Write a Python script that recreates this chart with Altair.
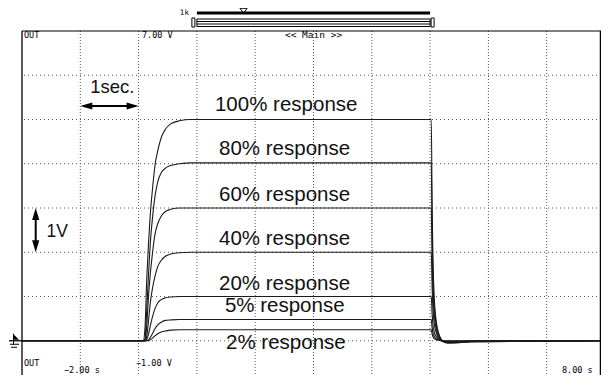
import altair as alt
import pandas as pd

# ---------------- data ----------------
# time (s) samples for the rising edge and for the falling edge
t_rise = [-2.0, 0.08, 0.11, 0.14, 0.17, 0.20, 0.24, 0.28, 0.33, 0.39, 0.46, 0.55, 0.70, 0.90]
t_fall = [5.02, 5.035, 5.05, 5.07, 5.10, 5.14, 5.20, 5.30, 5.45, 5.70, 8.00]

series = ["100%", "80%", "60%", "40%", "20%", "5%", "2%"]

rise_100 = [0, 0, 0.30, 1.40, 2.20, 2.85, 3.45, 3.95, 4.30, 4.60, 4.78, 4.90, 4.97, 5.00]
rise_80 = [0, 0, 0.05, 0.70, 1.50, 2.20, 2.80, 3.25, 3.60, 3.80, 3.90, 3.96, 4.00, 4.02]
rise_60 = [0, 0, 0, 0.35, 1.00, 1.50, 2.00, 2.40, 2.65, 2.82, 2.92, 2.97, 3.00, 3.00]
rise_40 = [0, 0, 0, 0.10, 0.45, 0.85, 1.20, 1.45, 1.68, 1.82, 1.91, 1.96, 1.99, 2.00]
rise_20 = [0, 0, 0, 0.03, 0.15, 0.33, 0.55, 0.72, 0.86, 0.93, 0.97, 0.99, 1.00, 1.00]
rise_5 = [0, 0, 0, 0, 0.02, 0.07, 0.17, 0.27, 0.36, 0.42, 0.46, 0.47, 0.48, 0.48]
rise_2 = [0, 0, 0, 0, 0, 0.02, 0.06, 0.11, 0.16, 0.20, 0.22, 0.24, 0.25, 0.25]

fall_100 = [5.00, 3.00, 1.80, 1.00, 0.50, 0.20, 0.02, -0.05, -0.05, -0.02, 0]
fall_80 = [4.02, 2.40, 1.40, 0.80, 0.40, 0.15, 0.00, -0.05, -0.04, -0.02, 0]
fall_60 = [3.00, 1.80, 1.05, 0.60, 0.30, 0.11, 0.00, -0.04, -0.04, -0.02, 0]
fall_40 = [2.00, 1.20, 0.70, 0.40, 0.20, 0.07, 0.00, -0.03, -0.03, -0.01, 0]
fall_20 = [1.00, 0.60, 0.35, 0.20, 0.10, 0.04, 0.00, -0.02, -0.02, -0.01, 0]
fall_5 = [0.48, 0.29, 0.17, 0.10, 0.05, 0.02, 0.00, -0.01, -0.01, 0, 0]
fall_2 = [0.25, 0.15, 0.09, 0.05, 0.03, 0.01, 0, 0, 0, 0, 0]

label_texts = ["100% response", "80% response", "60% response", "40% response",
               "20% response", "5% response", "2% response"]

grid_t = [-1, 0, 1, 2, 3, 4, 5, 6, 7]
grid_v = [0, 1, 2, 3, 4, 5, 6]

# ---------------- layout ----------------
W, H = 583, 354
T_MIN, T_MAX = -2, 8
V_MIN, V_MAX = -1, 7

def px(t):
    return (t - T_MIN) / (T_MAX - T_MIN) * W

def py(v):
    return (V_MAX - v) / (V_MAX - V_MIN) * H

xs = alt.Scale(domain=[T_MIN, T_MAX], nice=False, zero=False)
ys = alt.Scale(domain=[V_MIN, V_MAX], nice=False, zero=False)

rises = [rise_100, rise_80, rise_60, rise_40, rise_20, rise_5, rise_2]
falls = [fall_100, fall_80, fall_60, fall_40, fall_20, fall_5, fall_2]
rows = []
for name, r, f in zip(series, rises, falls):
    tt = t_rise + t_fall
    vv = r + f
    for i, (t, v) in enumerate(zip(tt, vv)):
        rows.append({"series": name, "idx": i, "t": t, "v": v})
curves = pd.DataFrame(rows)

one = pd.DataFrame({"k": [0]})
MONO = "DejaVu Sans Mono"
SANS = "Liberation Sans"

vgrid = alt.Chart(pd.DataFrame({"t": grid_t})).mark_rule(
    color="#555", strokeWidth=1, strokeDash=[1, 2]
).encode(x=alt.X("t:Q", scale=xs, axis=None))

hgrid = alt.Chart(pd.DataFrame({"v": grid_v})).mark_rule(
    color="#555", strokeWidth=1, strokeDash=[1, 3]
).encode(y=alt.Y("v:Q", scale=ys, axis=None))

# frame: left border, a right border on the last visible pixel column, top border
frame = [
    alt.Chart(one).mark_rule(color="black", strokeWidth=1.3).encode(
        x=alt.value(0), y=alt.value(0), y2=alt.value(H)),
    alt.Chart(one).mark_rule(color="black", strokeWidth=1.3).encode(
        x=alt.value(W - 4.6), y=alt.value(0), y2=alt.value(H)),
    alt.Chart(one).mark_rule(color="black", strokeWidth=1.2).encode(
        x=alt.value(0), x2=alt.value(W), y=alt.value(0)),
]

lines = alt.Chart(curves).mark_line(
    color="#1a1a1a", strokeWidth=1.1, interpolate="monotone"
).encode(
    x=alt.X("t:Q", scale=xs, axis=None),
    y=alt.Y("v:Q", scale=ys, axis=None),
    detail="series:N",
    order="idx:Q",
)

lab_df = pd.DataFrame({
    "text": label_texts,
    "t": [1.31, 1.38, 1.38, 1.38, 1.38, 1.48, 1.50],
    "v": [5.19, 4.20, 3.16, 2.16, 1.15, 0.66, -0.19],
})
labels = alt.Chart(lab_df).mark_text(
    font=SANS, fontSize=20.5, align="left", baseline="alphabetic", color="#111"
).encode(
    x=alt.X("t:Q", scale=xs, axis=None),
    y=alt.Y("v:Q", scale=ys, axis=None),
    text="text:N",
)

# small oscilloscope texts
small = pd.DataFrame({
    "text": ["OUT", "7.00 V", "OUT", "\u22121.00 V", "\u22122.00 s", "8.00 s"],
    "x": [2, 120, 2, 114, 42, 540],
    "y": [3.5, 3.5, 332, 332, 338.5, 338.5],
})
small_txt = alt.Chart(small).mark_text(
    font=MONO, fontSize=8.5, align="left", baseline="middle", color="black"
).encode(x=alt.X("x:Q", scale=None), y=alt.Y("y:Q", scale=None), text="text:N")

main_txt = alt.Chart(one).mark_text(
    font=MONO, fontSize=9.5, align="center", baseline="middle", color="black",
    text="<< Main >>"
).encode(x=alt.value(px(3)), y=alt.value(3.5))

# 1 sec annotation
sec_txt = alt.Chart(one).mark_text(
    font=SANS, fontSize=18.5, align="center", baseline="alphabetic", color="#111",
    text="1sec."
).encode(x=alt.value(px(-0.45)), y=alt.value(62))
sec_line = alt.Chart(one).mark_rule(color="black", strokeWidth=2).encode(
    x=alt.value(px(-1) + 6), x2=alt.value(px(0) - 6), y=alt.value(75)
)
head_l = alt.Chart(one).mark_point(
    shape="M 0 0 L 2 -0.6 L 2 0.6 Z", filled=True, size=144, color="black", opacity=1
).encode(x=alt.value(px(-1)), y=alt.value(75))
head_r = alt.Chart(one).mark_point(
    shape="M 0 0 L -2 -0.6 L -2 0.6 Z", filled=True, size=144, color="black", opacity=1
).encode(x=alt.value(px(0)), y=alt.value(75))

# 1 V annotation
xv = 13.7
v_line = alt.Chart(one).mark_rule(color="black", strokeWidth=2).encode(
    x=alt.value(xv), y=alt.value(py(3) + 6), y2=alt.value(py(2) - 6)
)
head_u = alt.Chart(one).mark_point(
    shape="M 0 0 L -0.6 2 L 0.6 2 Z", filled=True, size=144, color="black", opacity=1
).encode(x=alt.value(xv), y=alt.value(py(3)))
head_d = alt.Chart(one).mark_point(
    shape="M 0 0 L -0.6 -2 L 0.6 -2 Z", filled=True, size=144, color="black", opacity=1
).encode(x=alt.value(xv), y=alt.value(py(2)))
v_txt = alt.Chart(one).mark_text(
    font=SANS, fontSize=17.5, align="left", baseline="alphabetic", color="#111",
    text="1V"
).encode(x=alt.value(24.5), y=alt.value(206))

# ground marker on the left
y0 = py(0)
gnd = [
    alt.Chart(one).mark_rule(color="black", strokeWidth=1.3).encode(
        x=alt.value(-13), x2=alt.value(0), y=alt.value(y0)),
    alt.Chart(one).mark_rule(color="black", strokeWidth=1).encode(
        x=alt.value(-8.5), y=alt.value(y0 - 7), y2=alt.value(y0 + 4)),
    alt.Chart(one).mark_rule(color="black", strokeWidth=1).encode(
        x=alt.value(-12), x2=alt.value(-3), y=alt.value(y0 + 3.5)),
    alt.Chart(one).mark_rule(color="black", strokeWidth=1).encode(
        x=alt.value(-11), x2=alt.value(-5), y=alt.value(y0 + 6.5)),
    alt.Chart(one).mark_point(
        shape="M -1 1 L 1 1 L -1 -1 Z", filled=True, size=36, color="black", opacity=1
    ).encode(x=alt.value(-6), y=alt.value(y0 - 4)),
]

# zoom / scroll indicator above the screen
deco = [
    alt.Chart(one).mark_text(font=MONO, fontSize=7.5, align="right", baseline="middle",
                             color="black", text="1k").encode(
        x=alt.value(px(1) - 8), y=alt.value(-18)),
    alt.Chart(one).mark_rule(color="black", strokeWidth=3).encode(
        x=alt.value(px(1)), x2=alt.value(px(5)), y=alt.value(-18)),
    alt.Chart(one).mark_point(shape="M -1.2 -0.8 L 1.2 -0.8 L 0 0.8 Z", filled=False,
                              size=36, color="black", strokeWidth=1, opacity=1).encode(
        x=alt.value(px(1.8)), y=alt.value(-20.3)),
    alt.Chart(one).mark_rect(fill="white", stroke="black", strokeWidth=1).encode(
        x=alt.value(px(1)), x2=alt.value(px(5)), y=alt.value(-12), y2=alt.value(-4.5)),
    alt.Chart(one).mark_rule(color="black", strokeWidth=1).encode(
        x=alt.value(px(1)), x2=alt.value(px(5)), y=alt.value(-9.5)),
    alt.Chart(one).mark_rule(color="black", strokeWidth=1).encode(
        x=alt.value(px(1)), x2=alt.value(px(5)), y=alt.value(-7)),
    alt.Chart(one).mark_rect(fill="white", stroke="black", strokeWidth=1).encode(
        x=alt.value(px(1) - 5), x2=alt.value(px(1) - 2), y=alt.value(-13), y2=alt.value(-4)),
    alt.Chart(one).mark_rect(fill="white", stroke="black", strokeWidth=1).encode(
        x=alt.value(px(5) + 1), x2=alt.value(px(5) + 4), y=alt.value(-13), y2=alt.value(-4)),
]

chart = alt.layer(
    vgrid, hgrid, lines, *frame, labels, small_txt, main_txt,
    sec_txt, sec_line, head_l, head_r, v_line, head_u, head_d, v_txt,
    *gnd, *deco
).properties(
    width=W, height=H,
    # negative right/bottom padding: the scope screen runs past the page edge
    padding={"left": 14, "top": 23, "right": -4, "bottom": -10},
    autosize=alt.AutoSizeParams(type="none"),
    background="white",
).configure_view(stroke=None)

chart.save("out.html", embed_options={"renderer": "svg", "actions": False})
